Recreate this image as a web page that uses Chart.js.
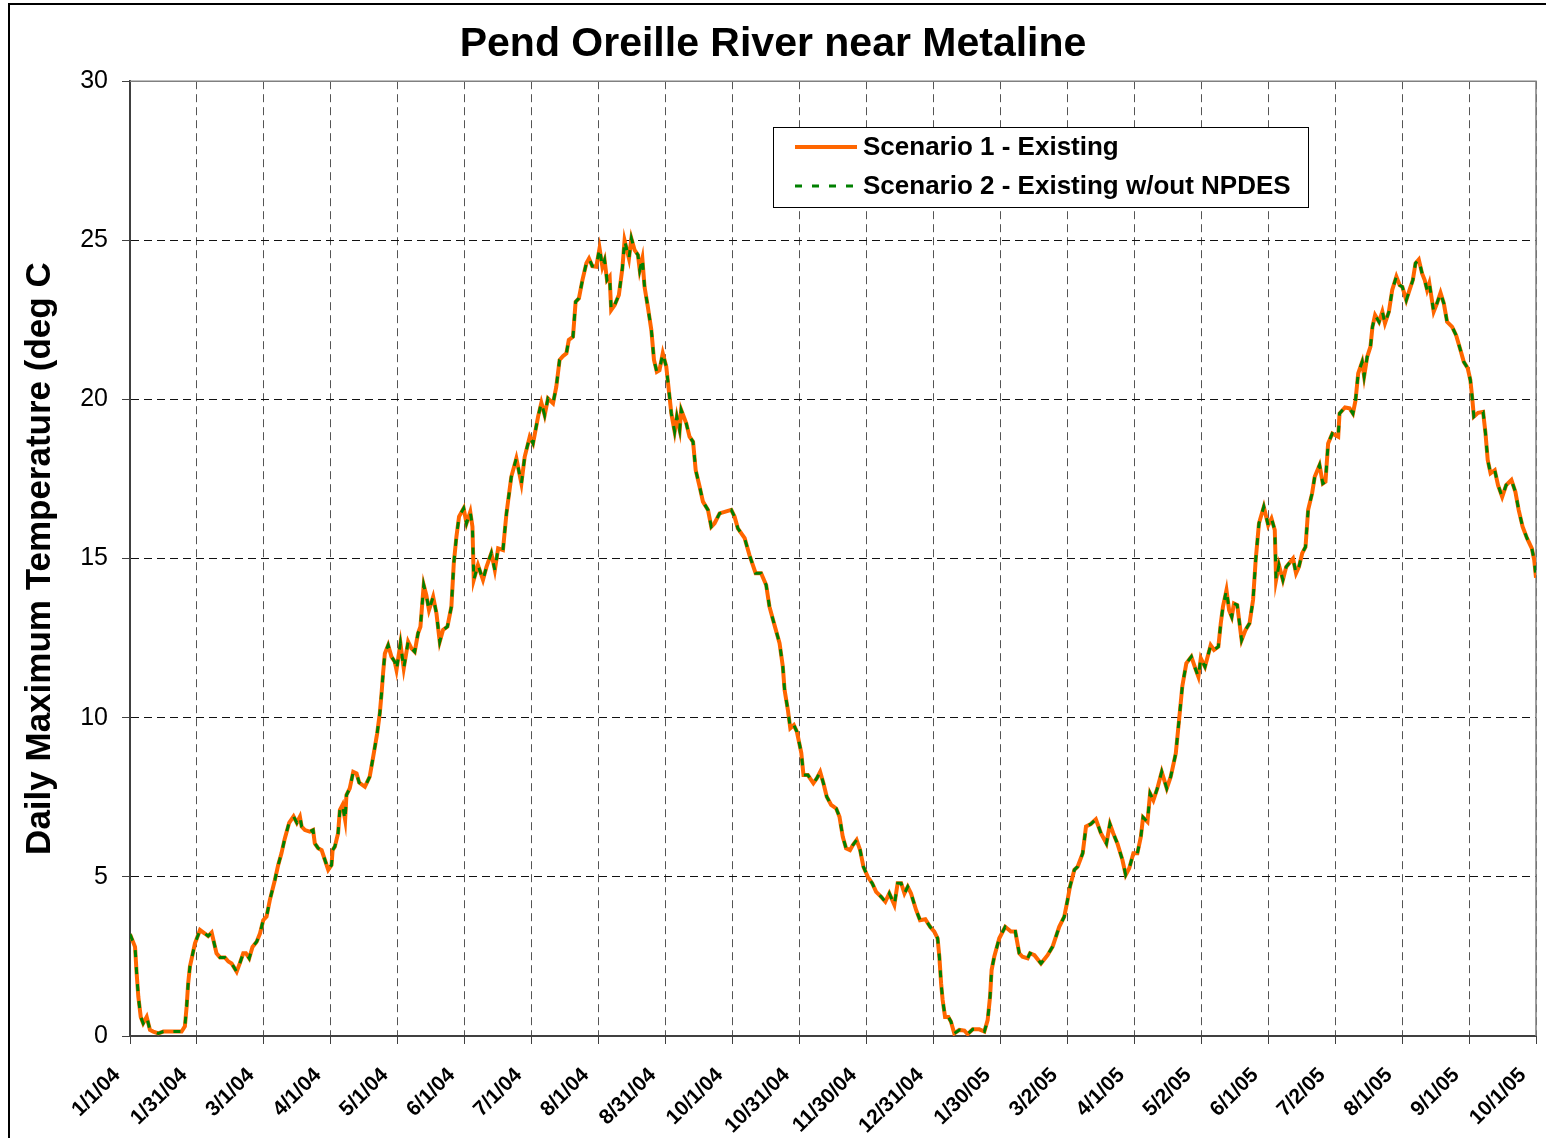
<!DOCTYPE html>
<html>
<head>
<meta charset="utf-8">
<title>Pend Oreille River near Metaline</title>
<script src="https://cdn.jsdelivr.net/npm/chart.js@4.4.1/dist/chart.umd.min.js"></script>
<style>
  html, body { margin: 0; padding: 0; background: #fff; }
</style>
</head>
<body>
<canvas id="tempChart" width="1546" height="1138"></canvas>
<script>
// Tick labels along the date axis (one every 30.5 days)
const tickLabels = [
    "1/1/04", "1/31/04", "3/1/04", "4/1/04", "5/1/04", "6/1/04", "7/1/04",
    "8/1/04", "8/31/04", "10/1/04", "10/31/04", "11/30/04", "12/31/04",
    "1/30/05", "3/2/05", "4/1/05", "5/2/05", "6/1/05", "7/2/05", "8/1/05",
    "9/1/05", "10/1/05"
];
const tickStep = 30.5;

// Days since 1/1/04
const dayIndex = [
    0, 2.3, 3, 3.8, 4.9, 6, 7.6, 9.1, 10.6, 12.9, 15.2, 23.5, 25, 25.8, 26.5, 27.3, 29.6,
    31.9, 34.1, 35.6, 37.2, 39.4, 41, 43.2, 44.8, 46.3, 48.6, 50, 51.6, 52.8, 54.3, 55.8,
    57.7, 59.2, 60.7, 62.2, 63.7, 66, 67.5, 69, 70.5, 72.5, 74.5, 76,
    77.4, 78.2, 79.7, 81.9, 83.4, 84.2, 85.7, 87.3, 88.8, 90.3, 91.8, 92.3, 93.3, 94.8,
    95.6, 96.8, 98, 98.6, 100.1, 101.7, 103.2, 104.4, 107, 109.2, 110.8, 112.6, 113.8,
    114.6, 115.3, 116.1, 117.6, 119.1, 120.6, 121.4, 123.2, 124.7, 126.7, 128.2, 129.7,
    131.2, 132.3, 133.8, 135, 136.2, 138.1, 139.6, 141.1, 142.6, 144.6, 146.4, 147.5,
    148.7, 149.9, 152, 153.3, 155, 156, 156.6,
    158.5, 160.8, 162.4, 164.6, 166.2, 167.7, 169.9, 171.5, 173.7, 176, 178.3, 179.8,
    182.1, 183.6, 185.9, 187.4, 188.9, 190.4, 192.7, 194.2, 195.7, 197.2, 198.8, 199.9,
    201.8, 203, 204.5, 206.1, 207.9, 209.1, 210.6, 212.4, 213.9, 215.2, 216.2, 217.3,
    218.5, 219.2, 220.8, 222.7, 224.3, 225.3, 227.3, 228.4, 229.9, 231.4, 232.2, 233.4,
    234.4, 235.9, 237.5, 238.7, 240, 241.2, 242.7, 244.3, 245.8,
    246.6, 248.1, 249.1, 250.4, 251.1, 253.4, 254.9, 256.5, 257.7, 259.5, 261, 263.3,
    264.8, 266.3, 268.6, 270.9, 273.9, 275.4, 276.9, 280, 282.2, 285, 287.5, 289.8,
    291.3, 293.6, 295.9, 297.4, 298.2, 299.7, 300.8, 302.4, 303.8,
    305.8, 306.8, 308.8, 311.3, 312.9, 314.4, 315.9, 317.4, 319.4, 321.7, 323.2, 324.7,
    326.2, 328, 329.3, 331, 332.6, 334.1, 336.1, 338.1, 339.9, 342.1, 344.1, 345.9,
    348.2, 349.7, 351.3, 352.8, 354.3, 355.8, 358.1, 359.9, 362.3, 364.5, 366.4, 367.9,
    368.7, 369.5, 370.2, 371.3, 372.8, 374, 375.5, 377.8, 380.1, 381.6, 383.9, 386.9,
    389.2, 390.7, 391.8, 392.5, 393.7, 396, 398.7,
    401.3, 403.3, 405.1, 406.6, 408.9, 410, 412, 415, 418, 420.3, 423.3, 425.6, 427.1,
    428.2, 430.2, 431.7, 434, 435.5, 437.7, 440, 442.3, 444.8, 446.4, 447.9, 449.8,
    452.1, 453.6, 455.2, 457.1, 458.9, 460.5, 461.5, 463.5, 464.7, 466.2, 468, 470,
    472.3, 474.1, 476.4, 477.9, 479.4, 481.2, 483.5, 485.3, 486.7, 487.8,
    489.7, 492.3, 493.8, 495.8, 496.9, 497.9, 499.5, 500.7, 501.9, 502.9, 504.4, 506.4,
    508.2, 510, 511.6, 512.8, 514.3, 516.5, 518.5, 520, 521.5, 522.1, 523.4, 525.2,
    526.7, 529.8, 531.2, 532.5, 534, 535.5, 536.7, 538.5, 539.7, 541.9, 543.4, 544.6,
    545.8, 547.7, 550.4, 551, 553.5, 555.6, 557.1, 558.3, 559.5, 561.3, 562.2, 563.6,
    565.1,
    566, 567.2, 569, 570.5, 571.7, 573.5, 575, 576.9, 578.4, 579.6, 581.4, 582.9, 584.4,
    585.6, 587.1, 588.6, 589.8, 590.9, 591.9, 593.9, 595.4, 597, 598.5, 600, 602.3,
    604.1, 606.1, 607.6, 609.4, 610.6, 611.4, 612.2, 614.1, 616.4, 617.5, 618.5, 619.8,
    621.7, 623.2, 625.1, 626.9, 629.3, 631.1, 632.6, 634.4, 636.4, 638.6, 639.7, 640.5
];

// Scenario 1 - Existing (deg C)
const scenario1Temps = [
    3.2, 2.8, 2.0, 1.23, 0.6, 0.4, 0.6, 0.19, 0.14, 0.08, 0.14, 0.14, 0.3, 0.92, 1.65, 2.18, 2.91,
    3.33, 3.22, 3.14, 3.25, 2.6, 2.47, 2.47, 2.34, 2.28, 2.02, 2.28, 2.6, 2.6, 2.44, 2.8,
    2.96, 3.22, 3.64, 3.75, 4.27, 4.9, 5.37, 5.74, 6.2, 6.7, 6.9, 6.7,
    6.89, 6.58, 6.47, 6.42, 6.47, 6.05, 5.9, 5.84, 5.53, 5.22, 5.37, 5.84, 5.95, 6.37,
    7.1, 7.26, 6.79, 7.57, 7.78, 8.3, 8.25, 7.96, 7.83, 8.15, 8.78, 9.51, 10.14,
    10.77, 11.4, 12.02, 12.28, 11.92, 11.76, 11.5, 12.34, 11.55, 12.39, 12.18, 12.07,
    12.65, 12.86, 14.17, 13.85, 13.38, 13.8, 13.28, 12.39, 12.76, 12.86, 13.49, 14.85,
    15.69, 16.32, 16.58, 16.11, 16.47, 16.0, 14.33,
    14.8, 14.33, 14.74, 15.17, 14.64, 15.32, 15.27, 16.42, 17.57, 18.15, 17.36, 18.2,
    18.83, 18.62, 19.46, 19.9, 19.51, 20.03, 19.88, 20.4, 21.24, 21.36, 21.45, 21.87,
    21.97, 23.07, 23.18, 23.75, 24.28, 24.43, 24.19, 24.17, 24.75, 24.17, 24.38, 23.75,
    23.86, 22.81, 22.97, 23.28, 24.12, 25.0, 24.43, 25.06, 24.69, 24.54, 24.07, 24.43,
    23.54, 22.91, 22.18, 21.24, 20.87, 20.92, 21.45, 21.03, 20.08,
    19.56, 18.99, 19.46, 19.04, 19.67, 19.25, 18.83, 18.67, 17.78, 17.26, 16.79, 16.53,
    16.0, 16.11, 16.42, 16.47, 16.53, 16.32, 15.95, 15.64, 15.11, 14.54, 14.54, 14.17,
    13.49, 12.91, 12.34, 11.6, 10.87, 10.24, 9.67, 9.77, 9.56,
    8.9, 8.2, 8.2, 7.94, 8.1, 8.3, 7.94, 7.52, 7.26, 7.15, 6.89, 6.26,
    5.9, 5.84, 6.0, 6.16, 5.84, 5.32, 5.0, 4.8, 4.53, 4.38, 4.22, 4.48,
    4.12, 4.8, 4.8, 4.48, 4.69, 4.48, 3.96, 3.64, 3.67, 3.43, 3.28, 3.07,
    2.49, 1.65, 1.13, 0.6, 0.6, 0.45, 0.08, 0.19, 0.17, 0.06, 0.21, 0.21,
    0.14, 0.5, 1.24, 2.07, 2.49, 3.07, 3.43,
    3.28, 3.28, 2.6, 2.49, 2.44, 2.6, 2.54, 2.28, 2.54, 2.81, 3.43, 3.75, 4.27,
    4.69, 5.22, 5.32, 5.74, 6.58, 6.66, 6.81, 6.37, 6.05, 6.66, 6.37, 6.05,
    5.53, 5.06, 5.27, 5.74, 5.74, 6.26, 6.87, 6.73, 7.62, 7.41, 7.78, 8.3,
    7.78, 8.15, 8.88, 9.93, 11.0, 11.71, 11.92, 11.55, 11.29, 11.87,
    11.6, 12.28, 12.13, 12.23, 12.97, 13.49, 14.01, 13.38, 13.17, 13.59, 13.54, 12.44,
    12.76, 12.97, 13.7, 14.95, 16.11, 16.63, 16.05, 16.26, 15.9, 14.33, 14.8, 14.33,
    14.74, 15.0, 14.54, 14.74, 15.17, 15.37, 16.53, 17.05, 17.57, 17.94, 17.36, 17.42,
    18.62, 18.93, 18.83, 19.56, 19.75, 19.72, 19.56, 19.98, 20.82, 21.18, 20.73, 21.34,
    21.66,
    22.28, 22.65, 22.44, 22.76, 22.39, 22.76, 23.44, 23.86, 23.59, 23.54, 23.12, 23.44, 23.75,
    24.28, 24.4, 23.96, 23.75, 23.44, 23.65, 22.76, 23.02, 23.35, 23.02, 22.44, 22.28,
    22.02, 21.55, 21.18, 20.98, 20.61, 20.08, 19.46, 19.58, 19.61, 18.93, 18.1, 17.68,
    17.78, 17.31, 16.94, 17.31, 17.47, 17.1, 16.53, 16.0, 15.64, 15.32, 14.95, 14.4
];

// Scenario 2 - Existing w/out NPDES: it lies on top of scenario 1 everywhere in the picture
const scenario2Temps = scenario1Temps.slice();

const toPoints = temps => dayIndex.map((d, i) => ({ x: d, y: temps[i] }));

Chart.defaults.font.family = '"Liberation Sans", Arial, sans-serif';
Chart.defaults.color = '#000';

// Gray frame on top/right of the plot, outer border of the picture
const framePlugin = {
    id: 'frame',
    beforeDatasetsDraw(chart) {
        const { ctx, chartArea: a } = chart;
        ctx.save();
        ctx.strokeStyle = '#808080';
        ctx.lineWidth = 1.5;
        ctx.beginPath();
        ctx.moveTo(a.left, a.top);
        ctx.lineTo(a.right, a.top);
        ctx.lineTo(a.right, a.bottom);
        ctx.stroke();
        ctx.restore();
    },
    afterDraw(chart) {
        const ctx = chart.ctx;
        ctx.save();
        ctx.strokeStyle = '#000';
        ctx.lineWidth = 2;
        ctx.strokeRect(9, 4, 2000, 2000);
        ctx.restore();
    }
};

// Boxed legend inside the plot, as in the original
const boxLegend = {
    id: 'boxLegend',
    afterDatasetsDraw(chart) {
        const ctx = chart.ctx;
        const box = { x: 773, y: 127, w: 535, h: 80 };
        ctx.save();
        ctx.fillStyle = '#fff';
        ctx.fillRect(box.x, box.y, box.w, box.h);
        ctx.strokeStyle = '#000';
        ctx.lineWidth = 1;
        ctx.strokeRect(box.x + 0.5, box.y + 0.5, box.w, box.h);
        chart.data.datasets.forEach((ds, i) => {
            const y = box.y + 20 + i * 39;
            ctx.strokeStyle = ds.borderColor;
            ctx.lineWidth = ds.borderWidth;
            ctx.setLineDash(ds.borderDash || []);
            ctx.beginPath();
            ctx.moveTo(box.x + 22, y);
            ctx.lineTo(box.x + 84, y);
            ctx.stroke();
            ctx.setLineDash([]);
            ctx.fillStyle = '#000';
            ctx.font = 'bold 26px "Liberation Sans", Arial, sans-serif';
            ctx.textBaseline = 'middle';
            ctx.fillText(ds.label, box.x + 90, y + 1);
        });
        ctx.restore();
    }
};

const ctx = document.getElementById('tempChart').getContext('2d');
const myChart = new Chart(ctx, {
    type: 'line',
    data: {
        datasets: [
            {
                label: 'Scenario 1 - Existing',
                data: toPoints(scenario1Temps),
                borderColor: '#ff6600',
                borderWidth: 4,
                pointRadius: 0,
                tension: 0,
                order: 1,
            },
            {
                label: 'Scenario 2 - Existing w/out NPDES',
                data: toPoints(scenario2Temps),
                borderColor: '#008000',
                borderWidth: 3,
                borderDash: [7, 10],
                pointRadius: 0,
                tension: 0,
                order: 0,
            },
        ],
    },
    options: {
        responsive: false,
        animation: false,
        layout: { padding: { left: 0, right: 0, top: 0, bottom: 0 } },
        plugins: {
            legend: { display: false },
            tooltip: { enabled: false },
            title: {
                display: true,
                text: 'Pend Oreille River near Metaline',
                font: { size: 41, weight: 'bold' },
                color: '#000',
                padding: { top: 20, bottom: 12 },
            },
        },
        scales: {
            x: {
                type: 'linear',
                min: 0,
                max: tickStep * (tickLabels.length - 1),
                afterBuildTicks: scale => {
                    scale.ticks = tickLabels.map((_, i) => ({ value: i * tickStep }));
                },
                afterFit: scale => {
                    // keep the plot right edge 10px in from the canvas edge
                    scale.height = 102;
                    scale.paddingLeft = 0;
                    scale.paddingRight = 10;
                },
                ticks: {
                    autoSkip: false,
                    minRotation: 45,
                    maxRotation: 45,
                    padding: 19,
                    labelOffset: -13,
                    font: { size: 21, weight: 'bold' },
                    color: '#000',
                    callback: (value, index) => tickLabels[index],
                },
                grid: {
                    color: '#555',
                    lineWidth: 1,
                    tickLength: 8,
                    tickColor: '#404040',
                },
                border: { display: true, color: '#404040', width: 2, dash: [8, 5] },
            },
            y: {
                min: 0,
                max: 30,
                afterFit: scale => { scale.width = 130; },
                ticks: {
                    stepSize: 5,
                    padding: 14,
                    font: { size: 25 },
                    color: '#000',
                },
                grid: {
                    color: '#111',
                    lineWidth: 1,
                    tickLength: 8,
                    tickColor: '#404040',
                },
                border: { display: true, color: '#404040', width: 2, dash: [8, 5] },
                title: {
                    display: true,
                    text: 'Daily Maximum Temperature (deg C',
                    font: { size: 35, weight: 'bold' },
                    color: '#000',
                    padding: { top: 19, bottom: 0 },
                },
            },
        },
    },
    plugins: [framePlugin, boxLegend],
});
</script>
</body>
</html>
